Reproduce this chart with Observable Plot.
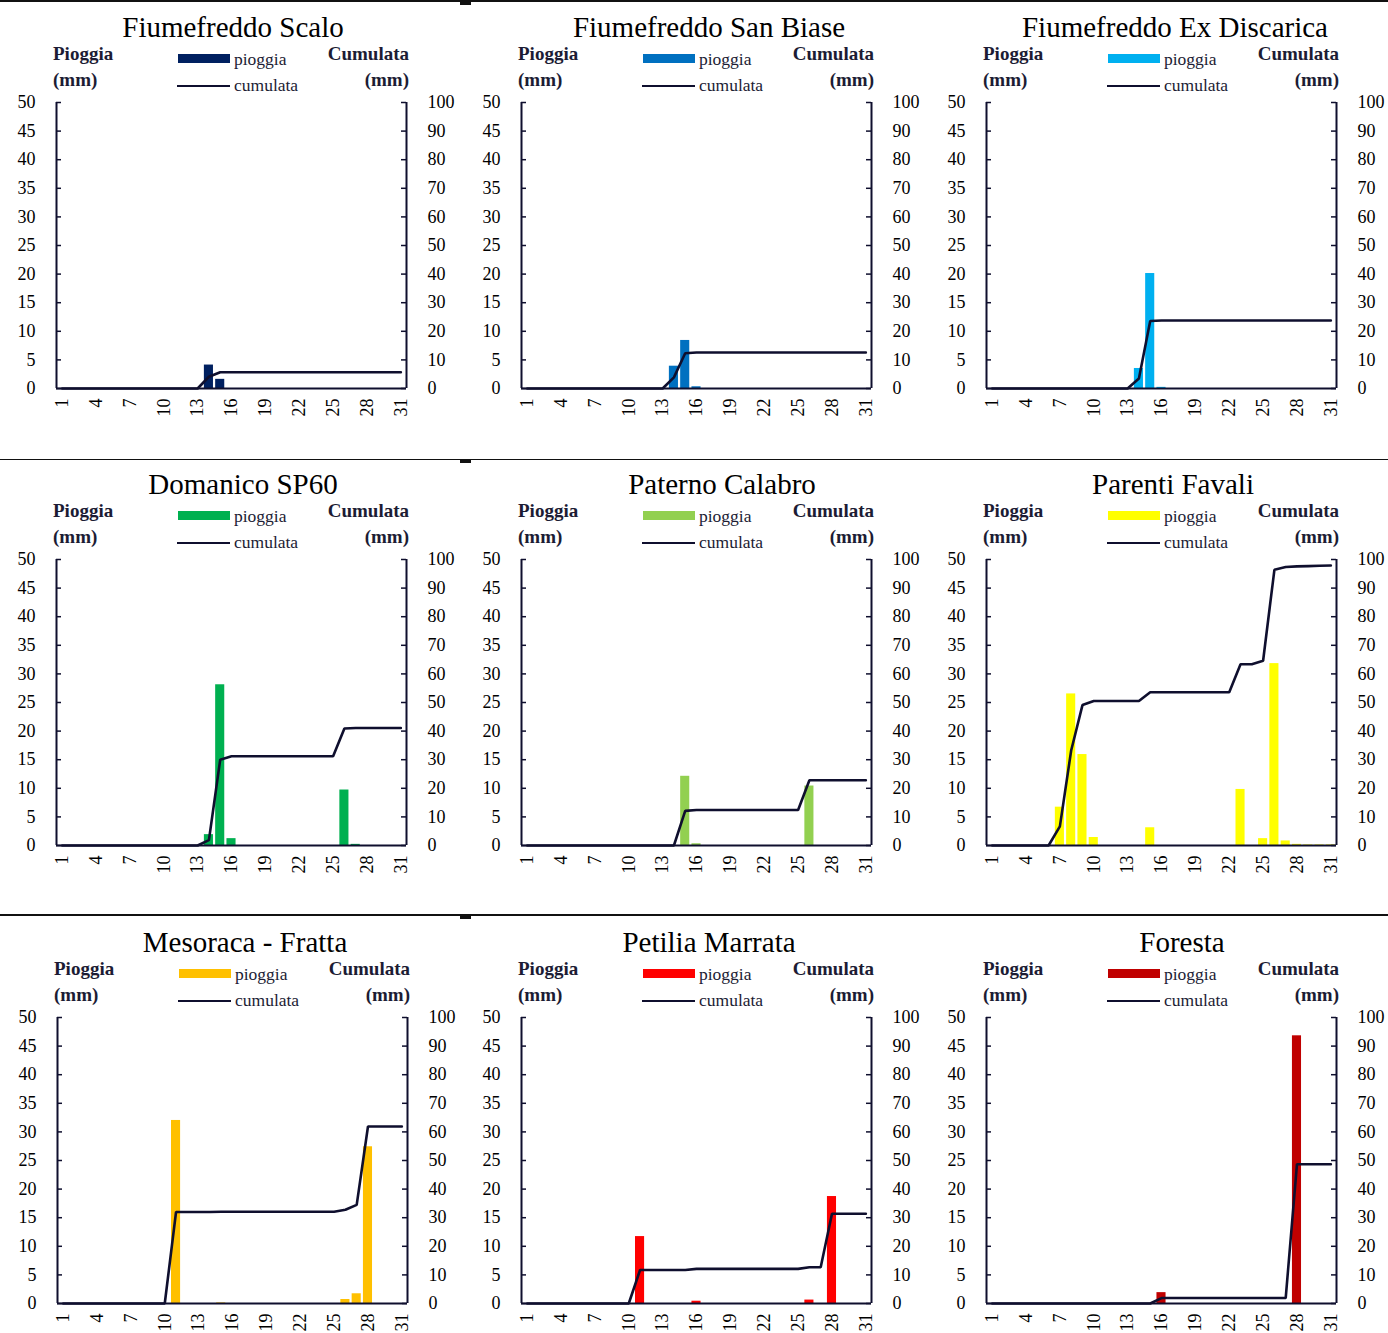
<!DOCTYPE html>
<html>
<head>
<meta charset="utf-8">
<script src="https://cdn.jsdelivr.net/npm/d3@7"></script>
<script src="https://cdn.jsdelivr.net/npm/@observablehq/plot@0.6"></script>
<style>
  html, body { margin: 0; padding: 0; background: #fff; }
  #root { position: relative; width: 1388px; height: 1333px; overflow: hidden; font-family: "Liberation Serif", serif; }
  .panel { position: absolute; width: 463px; height: 457px; }
  .panel svg { position: absolute; left: 0; top: 0; background: transparent; }
  .t { position: absolute; white-space: nowrap; line-height: 1; }
  .title { font-size: 29px; color: #000; transform: translateX(-50%); top: 12.5px; }
  .hdr { font-size: 19px; font-weight: bold; color: #1c1c34; }
  .leg { font-size: 17.5px; color: #1c1c34; }
  .sep { position: absolute; left: 0; width: 1388px; height: 1.5px; background: #111; }
  .knot { position: absolute; left: 460px; width: 11px; height: 3px; background: #111; }
</style>
</head>
<body>
<div id="root"></div>
<script>
// ---- data ----
const days = d3.range(1, 32);
const stations = ["Fiumefreddo Scalo", "Fiumefreddo San Biase", "Fiumefreddo Ex Discarica",
                  "Domanico SP60", "Paterno Calabro", "Parenti Favali",
                  "Mesoraca - Fratta", "Petilia Marrata", "Foresta"];
const barColors = ["#002060", "#0070C0", "#00B0F0", "#00B050", "#92D050", "#FFFF00", "#FFC000", "#FF0000", "#C00000"];
const titleCenters = [233, 244, 245, 243, 257, 243, 244, 244, 252];

// daily rain (mm), days 1..31
const rainScalo      = [0,0,0,0,0,0,0,0,0,0,0,0,0,4.1,1.6,0,0,0,0,0,0,0,0,0,0,0,0,0,0,0,0];
const rainSanBiase   = [0,0,0,0,0,0,0,0,0,0,0,0,0,3.9,8.4,0.3,0,0,0,0,0,0,0,0,0,0,0,0,0,0,0];
const rainDiscarica  = [0,0,0,0,0,0,0,0,0,0,0,0,0,3.5,20.1,0.2,0,0,0,0,0,0,0,0,0,0,0,0,0,0,0];
const rainDomanico   = [0,0,0,0,0,0,0,0,0,0,0,0,0,1.9,28.1,1.2,0,0,0,0,0,0,0,0,0,9.7,0.2,0,0,0,0];
const rainPaterno    = [0,0,0,0,0,0,0,0,0,0,0,0,0,0,12.1,0.3,0,0,0,0,0,0,0,0,0,10.4,0,0,0,0,0];
const rainParenti    = [0,0,0,0,0,0,6.7,26.5,15.9,1.4,0,0,0,0,3.1,0,0,0,0,0,0,0,9.8,0,1.2,31.8,0.8,0.2,0.1,0.1,0.1];
const rainMesoraca   = [0,0,0,0,0,0,0,0,0,0,32.0,0,0,0,0.1,0,0,0,0,0,0,0,0,0,0,0.7,1.7,27.4,0,0,0];
const rainPetilia    = [0,0,0,0,0,0,0,0,0,0,11.7,0,0,0,0,0.4,0,0,0,0,0,0,0,0,0,0.6,0,18.7,0,0,0];
const rainForesta    = [0,0,0,0,0,0,0,0,0,0,0,0,0,0,0,1.9,0,0,0,0,0,0,0,0,0,0,0,46.8,0,0,0];

// cumulated rain (mm), days 1..31
const cumScalo     = [0,0,0,0,0,0,0,0,0,0,0,0,0,4.1,5.7,5.7,5.7,5.7,5.7,5.7,5.7,5.7,5.7,5.7,5.7,5.7,5.7,5.7,5.7,5.7,5.7];
const cumSanBiase  = [0,0,0,0,0,0,0,0,0,0,0,0,0,3.9,12.3,12.6,12.6,12.6,12.6,12.6,12.6,12.6,12.6,12.6,12.6,12.6,12.6,12.6,12.6,12.6,12.6];
const cumDiscarica = [0,0,0,0,0,0,0,0,0,0,0,0,0,3.5,23.6,23.8,23.8,23.8,23.8,23.8,23.8,23.8,23.8,23.8,23.8,23.8,23.8,23.8,23.8,23.8,23.8];
const cumDomanico  = [0,0,0,0,0,0,0,0,0,0,0,0,0,1.9,30.0,31.2,31.2,31.2,31.2,31.2,31.2,31.2,31.2,31.2,31.2,40.9,41.1,41.1,41.1,41.1,41.1];
const cumPaterno   = [0,0,0,0,0,0,0,0,0,0,0,0,0,0,12.1,12.4,12.4,12.4,12.4,12.4,12.4,12.4,12.4,12.4,12.4,22.8,22.8,22.8,22.8,22.8,22.8];
const cumParenti   = [0,0,0,0,0,0,6.7,33.2,49.1,50.5,50.5,50.5,50.5,50.5,53.6,53.6,53.6,53.6,53.6,53.6,53.6,53.6,63.4,63.4,64.6,96.4,97.4,97.6,97.7,97.8,97.9];
const cumMesoraca  = [0,0,0,0,0,0,0,0,0,0,32.0,32.0,32.0,32.0,32.1,32.1,32.1,32.1,32.1,32.1,32.1,32.1,32.1,32.1,32.1,32.8,34.5,61.9,61.9,61.9,61.9];
const cumPetilia   = [0,0,0,0,0,0,0,0,0,0,11.7,11.7,11.7,11.7,11.7,12.1,12.1,12.1,12.1,12.1,12.1,12.1,12.1,12.1,12.1,12.7,12.7,31.4,31.4,31.4,31.4];
const cumForesta   = [0,0,0,0,0,0,0,0,0,0,0,0,0,0,0,1.9,1.9,1.9,1.9,1.9,1.9,1.9,1.9,1.9,1.9,1.9,1.9,48.7,48.7,48.7,48.7];

const rainSeries = [rainScalo, rainSanBiase, rainDiscarica, rainDomanico, rainPaterno, rainParenti, rainMesoraca, rainPetilia, rainForesta];
const cumSeries  = [cumScalo, cumSanBiase, cumDiscarica, cumDomanico, cumPaterno, cumParenti, cumMesoraca, cumPetilia, cumForesta];

const yTicksLeft = [0, 5, 10, 15, 20, 25, 30, 35, 40, 45, 50];
const xTicks = [1, 4, 7, 10, 13, 16, 19, 22, 25, 28, 31];

// ---- layout ----
const colX = [0, 465, 930];
const rowY = [0, 457, 915];
const ink = "#0f0f2e";
const root = document.getElementById("root");

function addText(parent, cls, text, css) {
  const el = document.createElement("div");
  el.className = "t " + cls;
  el.textContent = text;
  Object.assign(el.style, css);
  parent.appendChild(el);
  return el;
}

stations.forEach((name, i) => {
  const r = Math.floor(i / 3), c = i % 3;
  const panel = document.createElement("div");
  panel.className = "panel";
  panel.style.left = (colX[c] + (r === 2 && c === 0 ? 1 : 0)) + "px";
  panel.style.top = rowY[r] + "px";
  root.appendChild(panel);

  const rows = days.map((d, k) => ({day: d, rain: rainSeries[i][k], cum: cumSeries[i][k]}));
  const color = barColors[i];

  const chart = Plot.plot({
    width: 463,
    height: 440,
    marginLeft: 56,
    marginRight: 57,
    marginTop: 102,
    marginBottom: 52,
    x: {domain: [0.5, 31.5]},
    y: {domain: [0, 50]},
    style: {fontFamily: "Liberation Serif, serif", fontSize: "18px", color: "#000", background: "transparent", overflow: "visible"},
    marks: [
      Plot.rectY(rows, {x1: d => d.day - 0.5, x2: d => d.day + 0.5, y: "rain", fill: color, insetLeft: 1.1, insetRight: 1.1}),
      Plot.ruleY([0], {stroke: ink, strokeWidth: 2}),
      Plot.ruleX([0.5, 31.5], {y1: 0, y2: 50, stroke: ink, strokeWidth: 2}),
      Plot.ruleY(yTicksLeft, {y: d => d, x1: 0.5, x2: 0.5, insetRight: -5, stroke: ink, strokeWidth: 1.5}),
      Plot.ruleY(yTicksLeft, {y: d => d, x1: 31.5, x2: 31.5, insetLeft: -5, stroke: ink, strokeWidth: 1.5}),
      Plot.line(rows, {x: "day", y: d => d.cum / 2, stroke: ink, strokeWidth: 2.6, strokeLinejoin: "miter"}),
      Plot.axisY({anchor: "left", ticks: yTicksLeft, tickSize: 0, tickPadding: 21, label: null, fill: "#000"}),
      Plot.axisY({anchor: "right", ticks: yTicksLeft, tickSize: 0, tickPadding: 21, tickFormat: d => String(d * 2), label: null, fill: "#000"}),
      Plot.axisX({anchor: "bottom", ticks: xTicks, tickSize: 0, tickPadding: 10, tickRotate: -90, label: null, fill: "#000"})
    ]
  });
  panel.appendChild(chart);

  addText(panel, "title", name, {left: titleCenters[i] + "px"});
  addText(panel, "hdr", "Pioggia", {left: "53px", top: "44px"});
  addText(panel, "hdr", "(mm)", {left: "53px", top: "70px"});
  addText(panel, "hdr", "Cumulata", {right: (463 - 409) + "px", top: "44px"});
  addText(panel, "hdr", "(mm)", {right: (463 - 409) + "px", top: "70px"});

  const sw = document.createElement("div");
  Object.assign(sw.style, {position: "absolute", left: "178px", top: "54px", width: "52px", height: "9px", background: color});
  panel.appendChild(sw);
  const ln = document.createElement("div");
  Object.assign(ln.style, {position: "absolute", left: "177px", top: "84.5px", width: "53px", height: "2.4px", background: ink});
  panel.appendChild(ln);
  addText(panel, "leg", "pioggia", {left: "234px", top: "51px"});
  addText(panel, "leg", "cumulata", {left: "234px", top: "77px"});
});

[1, 459.5, 915].forEach(y => {
  const s = document.createElement("div");
  s.className = "sep";
  s.style.top = (y - 0.75) + "px";
  root.appendChild(s);
  const k = document.createElement("div");
  k.className = "knot";
  k.style.top = (y + 0.5) + "px";
  root.appendChild(k);
});
</script>
</body>
</html>
